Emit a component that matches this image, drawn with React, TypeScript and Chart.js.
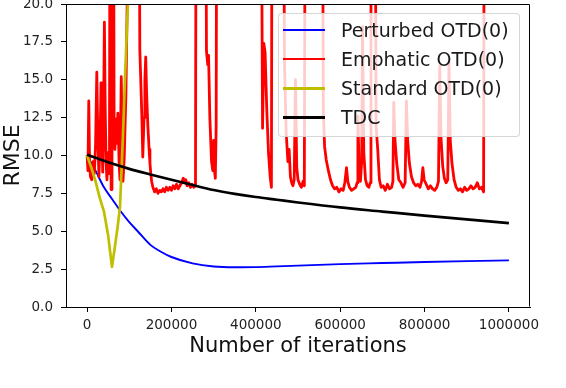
import React, { useEffect, useRef } from "react";
import { Chart, registerables } from "chart.js";

Chart.register(...registerables);

const FONT = "'DejaVu Sans', 'Liberation Sans', sans-serif";

const seriesNames = ["Perturbed OTD(0)", "Emphatic OTD(0)", "Standard OTD(0)", "TDC"];
const seriesColors = ["#0000ff", "#ff0000", "#bfbf00", "#000000"];
const seriesWidths = [1.9, 2.8, 2.7, 2.7];

// iterations in thousands
const perturbedIterK = [0, 20, 40, 60, 80, 100, 120, 150, 175, 200, 250, 300, 350, 400, 450, 500, 600, 700, 800, 900, 1000];
const perturbedRMSE = [10.0, 9.0, 7.9, 7.1, 6.3, 5.6, 5.0, 4.1, 3.65, 3.3, 2.88, 2.67, 2.62, 2.63, 2.68, 2.73, 2.83, 2.9, 2.97, 3.03, 3.08];

const emphaticIterK = [
  0, 2, 4, 6, 8, 11, 14, 17, 20, 23, 25, 28, 31, 33, 35, 37, 39, 41, 43, 45, 47, 50, 53, 55, 57, 59, 62, 64, 66, 68, 70, 73, 76, 78, 81, 83, 85, 88, 92, 96, 100, 120,
  122, 125, 127, 130, 132, 135, 137, 139, 141, 144, 147, 149, 151, 153, 156, 160, 164, 168, 172, 176, 180, 184, 188, 192, 196, 200, 204, 208, 212, 216, 220, 224, 228, 231, 234, 237, 241, 245, 249, 253, 257, 259,
  280, 283, 286, 288, 291, 295, 298, 300, 302, 304, 306, 308,
  411, 416, 419, 422, 426, 430, 434, 437, 439,
  464, 468, 472, 476, 479, 482, 485, 488, 491, 494, 497, 500, 504, 508, 512, 515, 518,
  557, 560, 563, 567, 572, 577, 582, 587, 592, 597, 602, 607, 611, 615, 618, 622, 627, 632, 637, 640, 642, 645, 648, 651, 653, 656, 660, 664, 668, 671, 673,
  682, 685, 689, 693, 697, 702, 707, 712, 717, 722, 725, 727, 730, 734, 739, 744, 749, 754, 757, 760, 764, 769, 774, 779, 784, 789, 793, 796, 799, 804, 809, 814, 819, 824, 829, 833, 836, 839, 843, 847, 851, 855, 858, 861, 865, 870, 875, 880, 885, 890, 895, 900, 905, 910, 915, 920, 925, 930, 935, 940, 942,
];
const emphaticRMSE = [
  10.0, 9.0, 13.6, 9.3, 8.6, 8.4, 9.6, 8.8, 10.6, 15.5, 12.0, 8.6, 11.2, 14.8, 11.4, 8.9, 12.3, 18.8, 13.0, 9.6, 8.4, 10.2, 8.8, 40, 7.75, 9.2, 40, 12.2, 10.4, 12.4, 10.8, 12.8, 9.4, 8.4, 15.2, 11.0, 8.3, 9.8, 14.0, 22.0, 40, 40,
  40, 17.0, 15.2, 12.4, 9.9, 12.5, 15.0, 16.5, 14.2, 12.0, 10.4, 9.5, 8.8, 8.3, 7.9, 7.6, 7.8, 7.5, 7.7, 7.6, 7.8, 7.6, 7.9, 7.7, 7.9, 7.7, 8.0, 7.8, 8.1, 7.8, 8.0, 8.2, 8.5, 8.2, 8.4, 8.0, 8.2, 7.9, 8.1, 7.9, 8.0, 40,
  40, 16.9, 16.0, 16.6, 12.5, 9.6, 9.0, 11.0, 9.0, 8.5, 12.0, 40,
  40, 11.8, 17.4, 16.8, 13.0, 10.2, 8.6, 7.9, 40,
  40, 16.0, 11.5, 9.6, 10.4, 8.6, 8.2, 8.0, 8.4, 15.0, 9.2, 8.4, 8.1, 7.9, 8.3, 8.0, 40,
  40, 13.0, 10.6, 9.7, 9.0, 8.4, 8.0, 7.8, 7.9, 7.6, 7.8, 7.7, 8.2, 9.2, 8.3, 7.9, 7.7, 7.8, 7.9, 8.2, 12.6, 9.0, 8.3, 9.6, 18.5, 10.2, 8.4, 8.0, 7.9, 8.2, 40,
  40, 12.0, 10.4, 8.4, 7.9, 8.0, 7.7, 8.1, 7.8, 7.9, 8.3, 13.5, 11.0, 9.5, 8.4, 8.2, 7.9, 8.2, 13.6, 11.0, 9.5, 8.6, 8.2, 8.0, 8.1, 7.9, 8.3, 9.2, 8.4, 8.1, 7.8, 8.0, 7.8, 7.7, 7.9, 8.3, 15.9, 11.2, 9.3, 8.5, 8.2, 8.4, 16.1, 11.0, 9.5, 8.4, 7.9, 7.7, 7.8, 7.6, 7.9, 7.7, 7.8, 8.0, 7.8, 7.9, 8.2, 7.8, 7.9, 7.6, 40,
];

const standardIterK = [0, 10, 20, 30, 40, 50, 59, 65, 72, 78, 85, 90, 97, 100, 105];
const standardRMSE = [10.0, 9.2, 8.3, 7.2, 6.3, 4.7, 2.65, 3.8, 5.2, 6.6, 11.3, 15.2, 20.2, 23, 30];

const tdcIterK = [0, 50, 100, 150, 200, 250, 300, 350, 400, 450, 500, 600, 700, 800, 900, 1000];
const tdcRMSE = [10.05, 9.55, 9.12, 8.75, 8.4, 8.05, 7.72, 7.47, 7.26, 7.08, 6.9, 6.57, 6.3, 6.03, 5.78, 5.54];

const xTicks = [0, 200000, 400000, 600000, 800000, 1000000];
const yTicks = [0, 2.5, 5, 7.5, 10, 12.5, 15, 17.5, 20];

const seriesIterK = [perturbedIterK, emphaticIterK, standardIterK, tdcIterK];
const seriesRMSE = [perturbedRMSE, emphaticRMSE, standardRMSE, tdcRMSE];
const seriesSmooth = [true, false, false, true];

const framePlugin = {
  id: "frame",
  afterDraw(chart: any) {
    const { ctx, chartArea: a } = chart;
    ctx.save();
    ctx.strokeStyle = "#000";
    ctx.lineWidth = 1;
    const l = Math.round(a.left) + 0.5;
    const t = Math.round(a.top) + 0.5;
    const r = Math.round(a.right) - 0.5;
    const b = Math.round(a.bottom) - 0.5;
    ctx.beginPath();
    ctx.moveTo(l, t);
    ctx.lineTo(r, t);
    ctx.lineTo(r, b);
    ctx.stroke();
    ctx.restore();
  },
};

export default function App() {
  const canvasRef = useRef<HTMLCanvasElement | null>(null);

  useEffect(() => {
    const canvas = canvasRef.current;
    if (!canvas) return;
    const datasets = seriesNames.map((name, i) => ({
      label: name,
      data: seriesIterK[i].map((k, j) => ({ x: k * 1000, y: seriesRMSE[i][j] })),
      borderColor: seriesColors[i],
      backgroundColor: seriesColors[i],
      borderWidth: seriesWidths[i],
      pointRadius: 0,
      fill: false,
      clip: 0,
      borderJoinStyle: "round" as const,
      cubicInterpolationMode: seriesSmooth[i] ? ("monotone" as const) : ("default" as const),
      order: seriesNames.length - i,
    }));

    const chart = new Chart(canvas, {
      type: "line",
      data: { datasets },
      plugins: [framePlugin],
      options: {
        animation: false,
        responsive: false,
        maintainAspectRatio: false,
        parsing: false as any,
        layout: { padding: { left: 0, top: 4, right: 36, bottom: 0 } },
        plugins: { legend: { display: false }, tooltip: { enabled: false } },
        scales: {
          x: {
            type: "linear",
            min: -50000,
            max: 1050000,
            afterBuildTicks: (s: any) => {
              s.ticks = xTicks.map((v) => ({ value: v }));
            },
            afterFit: (s: any) => {
              s.height = 81;
              s.paddingLeft = 0;
              s.paddingRight = 0;
            },
            ticks: {
              autoSkip: false,
              maxRotation: 0,
              padding: 5,
              color: "#222",
              font: { family: FONT, size: 13.5 },
              callback: (v: any) => String(v),
            },
            grid: { display: true, drawOnChartArea: false, drawTicks: true, tickLength: 5, color: "#000", lineWidth: 1 },
            border: { display: true, color: "#000", width: 1 },
            title: {
              display: true,
              text: "Number of iterations",
              color: "#111",
              font: { family: FONT, size: 21 },
              padding: { top: 0, bottom: 29 },
            },
          },
          y: {
            type: "linear",
            min: 0,
            max: 20,
            afterBuildTicks: (s: any) => {
              s.ticks = yTicks.map((v) => ({ value: v }));
            },
            afterFit: (s: any) => {
              s.width = 66;
              s.paddingTop = 0;
              s.paddingBottom = 0;
            },
            ticks: {
              autoSkip: false,
              padding: 8,
              color: "#222",
              font: { family: FONT, size: 13.5 },
              callback: (v: any) => Number(v).toFixed(1),
            },
            grid: { display: true, drawOnChartArea: false, drawTicks: true, tickLength: 5, color: "#000", lineWidth: 1 },
            border: { display: true, color: "#000", width: 1 },
            title: {
              display: true,
              text: "RMSE",
              color: "#111",
              font: { family: FONT, size: 22 },
              padding: { top: 0, bottom: 0 },
            },
          },
        },
      },
    });
    return () => chart.destroy();
  }, []);

  return (
    <div style={{ position: "fixed", left: 0, top: 0, width: 566, height: 388, background: "#fff", overflow: "hidden" }}>
      <canvas ref={canvasRef} width={566} height={388} style={{ display: "block", width: 566, height: 388 }} />
      <div
        style={{
          position: "absolute",
          left: 278,
          top: 13,
          width: 240,
          height: 122,
          background: "rgba(255,255,255,0.8)",
          border: "1px solid rgba(204,204,204,0.8)",
          borderRadius: 4,
        }}
      />
      {seriesNames.map((name, i) => (
        <div key={name} style={{ position: "absolute", left: 283, top: 30 + i * 29.1 - 12, height: 24, width: 236 }}>
          <div
            style={{
              position: "absolute",
              left: 0,
              top: 12 - seriesWidths[i] / 2,
              width: 42,
              height: seriesWidths[i],
              background: seriesColors[i],
            }}
          />
          <div
            style={{
              position: "absolute",
              left: 58,
              top: 0,
              lineHeight: "24px",
              fontFamily: FONT,
              fontSize: 19,
              color: "#1a1a1a",
              whiteSpace: "nowrap",
            }}
          >
            {name}
          </div>
        </div>
      ))}
    </div>
  );
}
